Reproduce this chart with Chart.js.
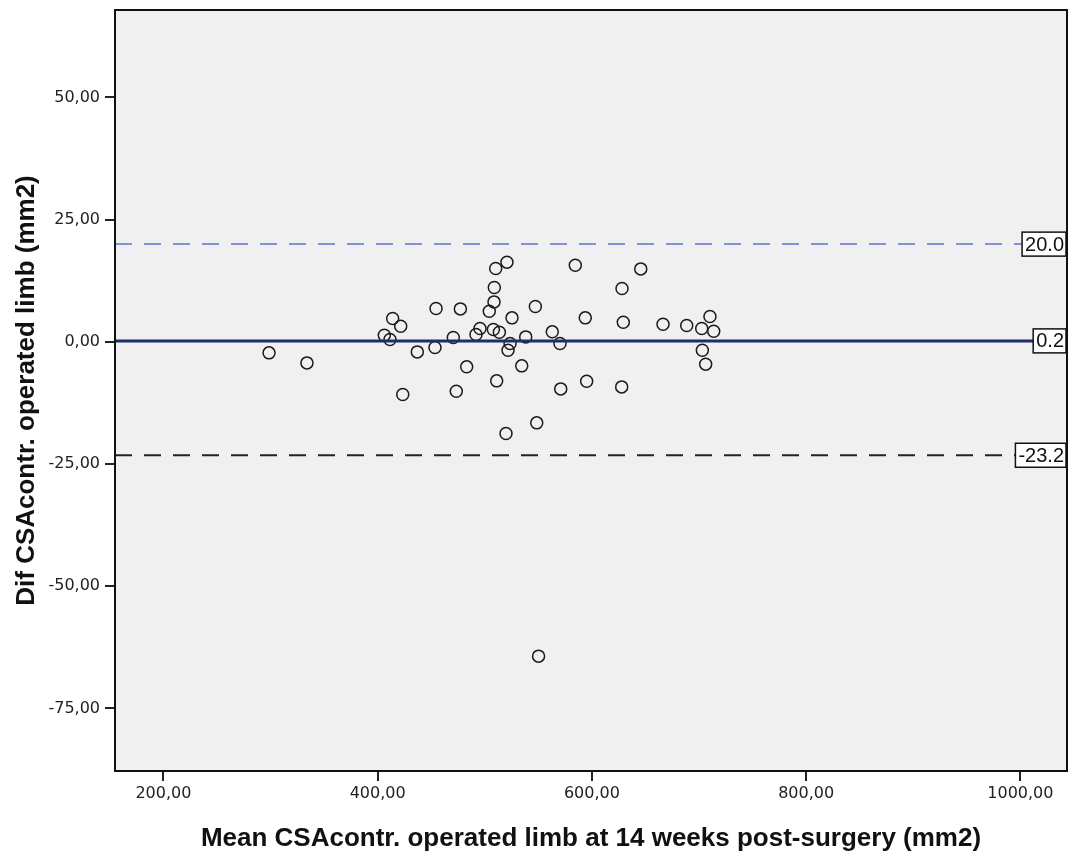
<!DOCTYPE html>
<html>
<head>
<meta charset="utf-8">
<script src="https://cdn.jsdelivr.net/npm/chart.js@4.4.1/dist/chart.umd.min.js"></script>
<style>
  html, body { margin: 0; padding: 0; background: #fff; }
  canvas { display: block; }
</style>
</head>
<body>
<canvas id="blandAltman" width="1075" height="857"></canvas>
<script>
// data ===========

const meanCSA = [
  298.6, 334.0, 406.2, 411.5, 414.0, 421.5, 423.4, 437.0, 454.5, 453.5,
  477.2, 470.6, 483.1, 473.4, 491.8, 495.5, 504.2, 508.6, 508.9, 510.2,
  520.7, 508.0, 513.6, 523.6, 521.7, 525.4, 511.1, 519.8, 534.5, 538.2,
  547.2, 548.5, 563.0, 570.2, 570.9, 584.5, 593.8, 595.1, 628.1, 629.3,
  627.8, 645.6, 666.4, 688.5, 702.5, 710.2, 713.7, 703.1, 706.2, 550.2,
];

const difCSA = [
  -2.25, -4.3, 1.37, 0.49, 4.79, 3.21, -10.76, -2.05, 6.83, -1.15,
  6.75, 0.9, -5.11, -10.09, 1.51, 2.74, 6.28, 8.18, 11.13, 15.02,
  16.31, 2.54, 1.98, -0.33, -1.7, 4.91, -7.98, -18.74, -4.91, 1.02,
  7.24, -16.57, 2.05, -0.33, -9.62, 15.69, 4.91, -8.04, 10.92, 4.03,
  -9.21, 14.93, 3.62, 3.36, 2.74, 5.2, 2.19, -1.7, -4.56, -64.3,
];

const xTicks = [200, 400, 600, 800, 1000];
const yTicks = [-75, -50, -25, 0, 25, 50];

const meanDif = 0.2;
const upperLimit = 20.0;
const lowerLimit = -23.2;

const xMin = 154.8;
const xMax = 1043.5;
const yMin = -87.8;
const yMax = 67.9;

// end data ===========

const points = meanCSA.map((m, i) => ({ x: m, y: difCSA[i] }));
const hline = (v) => [{ x: xMin, y: v }, { x: xMax, y: v }];
const comma = (v) => Number(v).toFixed(2).replace(".", ",");

// plot background + frame + line labels
const frame = {
  id: "frame",
  beforeDraw(chart) {
    const { ctx, chartArea: a } = chart;
    ctx.save();
    ctx.fillStyle = "#f0f0f0";
    ctx.fillRect(a.left, a.top, a.right - a.left, a.bottom - a.top);
    ctx.restore();
  },
  afterDraw(chart) {
    const { ctx, chartArea: a } = chart;
    const y = chart.scales.y;
    ctx.save();
    ctx.font = "20px 'Liberation Sans', Arial, sans-serif";
    ctx.textBaseline = "middle";
    ctx.textAlign = "right";
    [upperLimit, meanDif, lowerLimit].forEach((v) => {
      const txt = v.toFixed(1);
      const w = ctx.measureText(txt).width + 5;
      const py = y.getPixelForValue(v);
      const right = a.right - 1;
      ctx.fillStyle = "#fff";
      ctx.fillRect(right - w, py - 12, w, 24);
      ctx.strokeStyle = "#111";
      ctx.lineWidth = 1.5;
      ctx.strokeRect(right - w, py - 12, w, 24);
      ctx.fillStyle = "#111";
      ctx.fillText(txt, right - 2, py + 1);
    });
    ctx.strokeStyle = "#111";
    ctx.lineWidth = 2;
    ctx.strokeRect(a.left, a.top, a.right - a.left, a.bottom - a.top);
    ctx.restore();
  },
};

const ctx = document.getElementById("blandAltman").getContext("2d");

const blandAltman = new Chart(ctx, {
  type: "scatter",
  data: {
    datasets: [
      {
        data: hline(upperLimit),
        showLine: true,
        borderColor: "#7f92d2",
        borderWidth: 2,
        borderDash: [17, 12],
        pointRadius: 0,
      },
      {
        data: hline(lowerLimit),
        showLine: true,
        borderColor: "#222",
        borderWidth: 2,
        borderDash: [17, 12],
        pointRadius: 0,
      },
      {
        data: hline(meanDif),
        showLine: true,
        borderColor: "#1e2d6b",
        borderWidth: 3,
        pointRadius: 0,
      },
      {
        data: points,
        pointStyle: "circle",
        pointRadius: 6,
        pointBorderWidth: 1.5,
        pointBorderColor: "#1a1a1a",
        pointBackgroundColor: "rgba(0,0,0,0)",
      },
    ],
  },
  options: {
    responsive: false,
    animation: false,
    layout: { padding: { top: 10, right: 8, left: 0, bottom: 0 } },
    plugins: {
      legend: { display: false },
      tooltip: { enabled: false },
    },
    scales: {
      x: {
        type: "linear",
        min: xMin,
        max: xMax,
        afterBuildTicks: (axis) => {
          axis.ticks = xTicks.map((v) => ({ value: v }));
        },
        afterFit: (axis) => {
          axis.height = 86;
          axis.paddingLeft = 0;
          axis.paddingRight = 0;
        },
        grid: {
          drawOnChartArea: false,
          drawTicks: true,
          tickLength: 10,
          color: "#222",
          lineWidth: 2,
        },
        border: { display: true, color: "#111", width: 2 },
        ticks: {
          padding: 3,
          color: "#222",
          font: { family: "'DejaVu Sans', sans-serif", size: 16 },
          maxRotation: 0,
          callback: (v) => comma(v),
        },
        title: {
          display: true,
          text: "Mean CSAcontr. operated limb at 14 weeks post-surgery (mm2)",
          color: "#111",
          font: { family: "'Liberation Sans', Arial, sans-serif", size: 26, weight: "bold" },
          padding: { top: 0, bottom: 3 },
        },
      },
      y: {
        type: "linear",
        min: yMin,
        max: yMax,
        afterBuildTicks: (axis) => {
          axis.ticks = yTicks.map((v) => ({ value: v }));
        },
        afterFit: (axis) => {
          axis.width = 115;
          axis.paddingTop = 0;
          axis.paddingBottom = 0;
        },
        grid: {
          drawOnChartArea: false,
          drawTicks: true,
          tickLength: 10,
          color: "#222",
          lineWidth: 2,
        },
        border: { display: true, color: "#111", width: 2 },
        ticks: {
          padding: 5,
          color: "#222",
          font: { family: "'DejaVu Sans', sans-serif", size: 16 },
          callback: (v) => comma(v),
        },
        title: {
          display: true,
          text: "Dif CSAcontr. operated limb (mm2)",
          color: "#111",
          font: { family: "'Liberation Sans', Arial, sans-serif", size: 26, weight: "bold" },
          padding: { top: 11, bottom: 0 },
        },
      },
    },
  },
  plugins: [frame],
});
</script>
</body>
</html>
